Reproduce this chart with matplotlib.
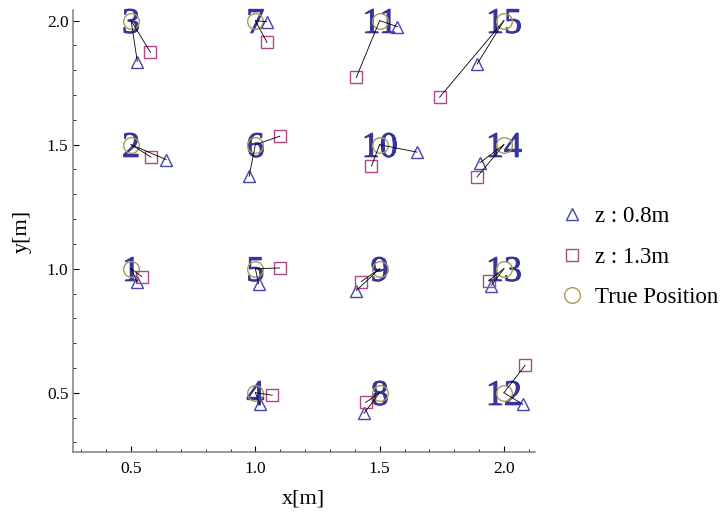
import matplotlib
matplotlib.use("Agg")
import matplotlib.pyplot as plt
import matplotlib.patheffects as pe
from matplotlib.ticker import MultipleLocator, FormatStrFormatter
from matplotlib.lines import Line2D

# Reference points (true positions), numbered 1..15
point_ids = list(range(1, 16))
true_x = [0.5, 0.5, 0.5, 1.0, 1.0, 1.0, 1.0, 1.5, 1.5, 1.5, 1.5, 2.0, 2.0, 2.0, 2.0]
true_y = [1.0, 1.5, 2.0, 0.5, 1.0, 1.5, 2.0, 0.5, 1.0, 1.5, 2.0, 0.5, 1.0, 1.5, 2.0]

# Estimated positions with the receiver at z = 0.8 m
est08_x = [0.525, 0.641, 0.525, 1.018, 1.013, 0.975, 1.045, 1.437, 1.406, 1.650,
           1.571, 2.076, 1.949, 1.903, 1.892]
est08_y = [0.945, 1.440, 1.835, 0.453, 0.939, 1.373, 1.996, 0.417, 0.912, 1.470,
           1.976, 0.453, 0.932, 1.427, 1.825]

# Estimated positions with the receiver at z = 1.3 m
est13_x = [0.543, 0.580, 0.578, 1.068, 1.098, 1.098, 1.047, 1.444, 1.426, 1.467,
           1.406, 2.085, 1.939, 1.892, 1.741]
est13_y = [0.968, 1.450, 1.872, 0.490, 1.003, 1.534, 1.912, 0.461, 0.948, 1.414,
           1.771, 0.610, 0.952, 1.370, 1.691]

series_labels = ["z : 0.8m", "z : 1.3m", "True Position"]

plt.rcParams["font.family"] = ["Liberation Serif", "DejaVu Serif"]

tri_color = "#4646aa"
sq_color = "#b0478a"
circ_color = "#aa9a50"
num_color = "#35359a"

fig = plt.figure(figsize=(7.24, 5.14), dpi=100)
W, H = 724.0, 514.0
ax = fig.add_axes([72.7 / W, 1 - 452 / H, 462.3 / W, 442 / H])
ax.set_xlim(0.265, 2.125)
ax.set_ylim(0.261, 2.043)

# Point numbers centred on the true positions
for n, tx, ty in zip(point_ids, true_x, true_y):
    ax.annotate(str(n), (tx, ty), xytext=(0, -8.8), textcoords="offset points",
                ha="center", va="baseline", fontsize=26, color=num_color, zorder=2,
                path_effects=[pe.withStroke(linewidth=0.6, foreground=num_color)])

ms_kw = dict(ls="none", mfc="none", mew=1.0)
ax.plot(true_x, true_y, marker="o", ms=11.3, mec=circ_color, zorder=3, **ms_kw)
ax.plot(est08_x, est08_y, marker="^", ms=9, mec=tri_color, zorder=3, **ms_kw)
ax.plot(est13_x, est13_y, marker="s", ms=8.6, mec=sq_color, zorder=3, **ms_kw)

# Error segments from each true position to its estimates
for tx, ty, ax8, ay8, ax13, ay13 in zip(true_x, true_y, est08_x, est08_y, est13_x, est13_y):
    ax.plot([tx, ax8], [ty, ay8], color="black", lw=0.6, zorder=4)
    ax.plot([tx, ax13], [ty, ay13], color="black", lw=0.6, zorder=4)

for side in ("top", "right"):
    ax.spines[side].set_visible(False)
for side in ("left", "bottom"):
    ax.spines[side].set_color("#808080")
    ax.spines[side].set_linewidth(1.1)

for axis in (ax.xaxis, ax.yaxis):
    axis.set_major_locator(MultipleLocator(0.5))
    axis.set_minor_locator(MultipleLocator(0.1))
    axis.set_major_formatter(FormatStrFormatter("%.1f"))

ax.tick_params(which="both", direction="in", color="black", labelsize=12.5)
ax.tick_params(which="major", length=4.5, width=0.8)
ax.tick_params(which="minor", length=2.5, width=0.6)
ax.tick_params(axis="x", pad=6.5)
ax.tick_params(axis="y", pad=3)

ax.set_xlabel("x[m]", fontsize=16)
ax.set_ylabel("y[m]", fontsize=16)
ax.xaxis.set_label_coords(0.5, -0.085)
ax.yaxis.set_label_coords(-0.089, 0.5)

handles = [
    Line2D([], [], marker="^", ms=9, mec=tri_color, **ms_kw),
    Line2D([], [], marker="s", ms=8.6, mec=sq_color, **ms_kw),
    Line2D([], [], marker="o", ms=11.3, mec=circ_color, **ms_kw),
]
fig.legend(handles, series_labels, loc="center left",
           bbox_to_anchor=(564.8 / W, 1 - 257 / H), frameon=False, fontsize=16.5,
           handlelength=0.6, handletextpad=0.71, labelspacing=0.85,
           borderpad=0, borderaxespad=0)

fig.savefig("out.png", dpi=100)
